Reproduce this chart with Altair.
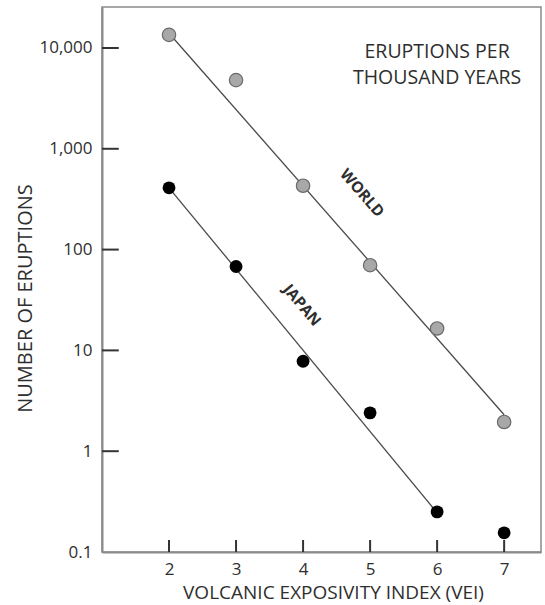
import altair as alt
import pandas as pd

# ---- data ----
vei = [2, 3, 4, 5, 6, 7]
world = [13500, 4800, 430, 70, 16.5, 1.95]
japan = [410, 68, 7.8, 2.4, 0.25, 0.155]

world_fit_vei = [2, 7]
world_fit = [14000, 2.3]
japan_fit_vei = [2, 6]
japan_fit = [410, 0.245]

y_ticks = [0.1, 1, 10, 100, 1000, 10000]
y_tick_labels = ["0.1", "1", "10", "100", "1,000", "10,000"]
x_ticks = [2, 3, 4, 5, 6, 7]

note_text = ["ERUPTIONS PER", "THOUSAND YEARS"]

FONT = "Open Sans"
TXT = "#2e2e2e"
AX = "#8a8a8a"

xs = alt.Scale(domain=[1, 7.55], nice=False, zero=False)
ys = alt.Scale(type="log", domain=[0.1, 25500], nice=False)

label_map = "{" + ",".join(f"'{v}':'{l}'" for v, l in zip(y_ticks, y_tick_labels)) + "}"

df_w = pd.DataFrame({"vei": vei, "n": world})
df_j = pd.DataFrame({"vei": vei, "n": japan})
df_wf = pd.DataFrame({"vei": world_fit_vei, "n": world_fit})
df_jf = pd.DataFrame({"vei": japan_fit_vei, "n": japan_fit})

ytick_df = pd.DataFrame({"y": y_ticks[1:], "x0": [1] * 5, "x1": [1.25] * 5})
xtick_df = pd.DataFrame({"x": x_ticks, "y0": [0.1] * 6, "y1": [0.1315] * 6})

base_x = alt.X("vei:Q", scale=xs,
               axis=alt.Axis(values=x_ticks, format="d", title="VOLCANIC EXPOSIVITY INDEX (VEI)",
                             tickSize=0, labelPadding=9, grid=False,
                             titleBaseline="alphabetic", titleY=46, titleX=231, titleFontSize=19))
base_y = alt.Y("n:Q", scale=ys,
               axis=alt.Axis(values=y_ticks, title="NUMBER OF ERUPTIONS",
                             labelExpr=f"{label_map}[datum.value + '']",
                             tickSize=0, labelPadding=10, grid=False,
                             titleX=-77, titleY=291, titleBaseline="middle", titleAlign="center"))

fit_w = alt.Chart(df_wf).mark_line(color="#4a4a4a", strokeWidth=1.3).encode(x=base_x, y=base_y)
fit_j = alt.Chart(df_jf).mark_line(color="#4a4a4a", strokeWidth=1.3).encode(x="vei:Q", y="n:Q")

pts_w = alt.Chart(df_w).mark_point(filled=True, shape="circle", size=180, fill="#a8a8a8",
                                   stroke="#6a6a6a", strokeWidth=1.2, opacity=1).encode(x="vei:Q", y="n:Q")
pts_j = alt.Chart(df_j).mark_point(filled=True, shape="circle", size=165, color="#000000",
                                   opacity=1).encode(x="vei:Q", y="n:Q")

yticks = alt.Chart(ytick_df).mark_rule(color="#333333", strokeWidth=2).encode(
    x=alt.X("x0:Q", scale=xs), x2="x1:Q", y=alt.Y("y:Q", scale=ys))
xticks = alt.Chart(xtick_df).mark_rule(color="#333333", strokeWidth=2).encode(
    x=alt.X("x:Q", scale=xs), y=alt.Y("y0:Q", scale=ys), y2="y1:Q")

lab_w = alt.Chart(pd.DataFrame({"x": [4.88], "y": [363], "t": ["WORLD"]})).mark_text(
    angle=49, font=FONT, fontSize=15.5, fontWeight="bold", color=TXT).encode(
    x=alt.X("x:Q", scale=xs), y=alt.Y("y:Q", scale=ys), text="t:N")
lab_j = alt.Chart(pd.DataFrame({"x": [3.985], "y": [28], "t": ["JAPAN"]})).mark_text(
    angle=50, font=FONT, fontSize=15.5, fontWeight="bold", color=TXT).encode(
    x=alt.X("x:Q", scale=xs), y=alt.Y("y:Q", scale=ys), text="t:N")

note = alt.Chart(pd.DataFrame({"x": [6.0], "y": [9070]})).mark_text(
    text=note_text, font=FONT, fontSize=19.5, lineHeight=26, color=TXT,
    align="center", baseline="middle").encode(
    x=alt.X("x:Q", scale=xs), y=alt.Y("y:Q", scale=ys))

chart = alt.layer(fit_w, fit_j, yticks, xticks, pts_w, pts_j, lab_w, lab_j, note).properties(
    width=439, height=545,
    background="white",
    autosize=alt.AutoSizeParams(type="none"),
    padding={"left": 102, "top": 7, "right": 4, "bottom": 53},
).configure_view(stroke=AX, strokeWidth=1.5).configure_axis(
    domainColor=AX, domainWidth=2, labelFont=FONT, titleFont=FONT,
    labelFontSize=17, titleFontSize=20, labelColor=TXT, titleColor=TXT,
    titleFontWeight="normal",
)

chart.save("out.html", embed_options={"renderer": "svg", "actions": False})
